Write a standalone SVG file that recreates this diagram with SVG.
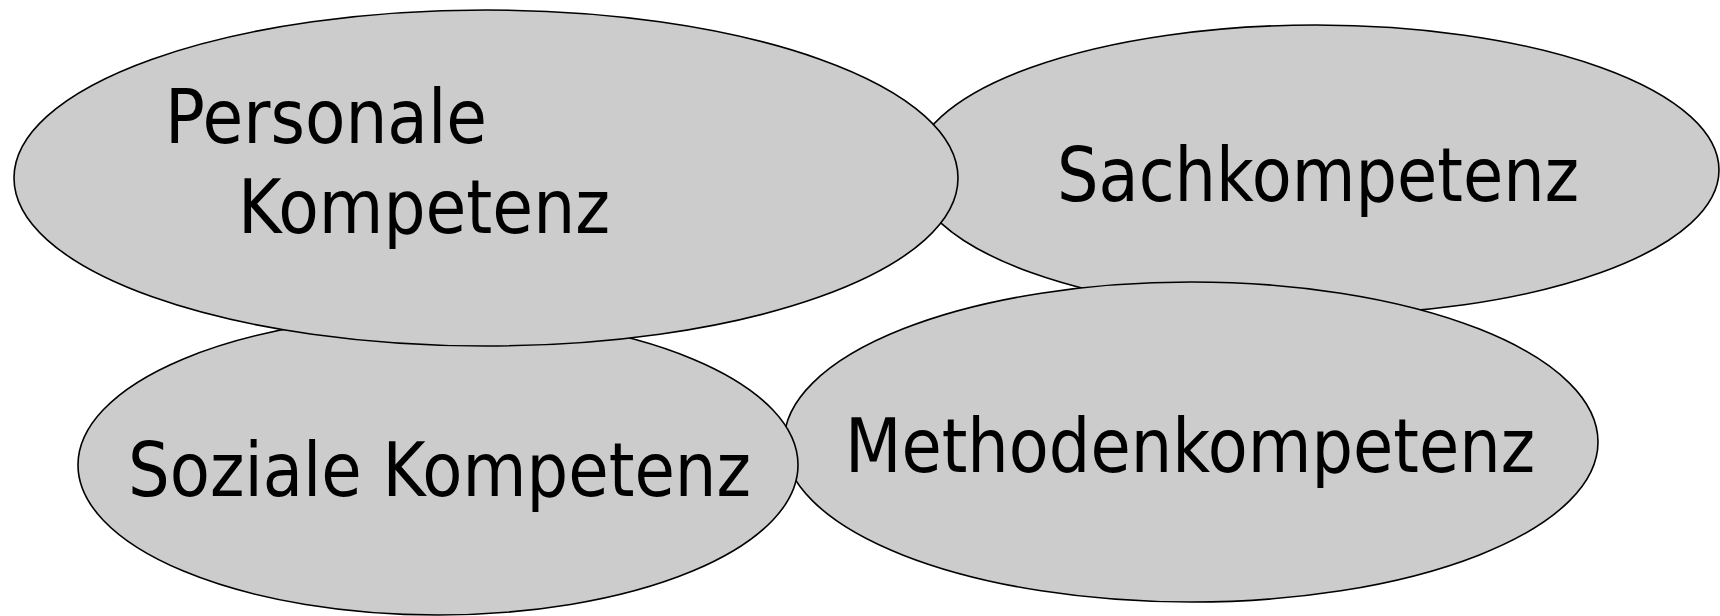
<svg xmlns="http://www.w3.org/2000/svg" width="1720" height="616" viewBox="0 0 1720 616">
<style>
.node ellipse{fill:#cccccc;stroke:#000000;stroke-width:1.6}
.node text{font-family:"DejaVu Sans","Liberation Sans",sans-serif;font-size:75px;fill:#000000}
</style>
<rect width="1720" height="616" fill="#ffffff"/>
<g id="connectors"/>
<g id="sachkompetenz" class="node">
<ellipse cx="1316" cy="170" rx="403" ry="145"/>
<text x="1057" y="201" textLength="522" lengthAdjust="spacingAndGlyphs">Sachkompetenz</text>
</g>
<g id="methodenkompetenz" class="node">
<ellipse cx="1191" cy="442" rx="407" ry="160"/>
<text x="845" y="472" textLength="690" lengthAdjust="spacingAndGlyphs">Methodenkompetenz</text>
</g>
<g id="soziale" class="node">
<ellipse cx="438" cy="465" rx="360" ry="150"/>
<text x="128" y="496" textLength="623" lengthAdjust="spacingAndGlyphs">Soziale Kompetenz</text>
</g>
<g id="personale" class="node">
<ellipse cx="486" cy="178" rx="472" ry="168"/>
<text x="165" y="143" textLength="322" lengthAdjust="spacingAndGlyphs">Personale</text>
<text x="238" y="233" textLength="372" lengthAdjust="spacingAndGlyphs">Kompetenz</text>
</g>
</svg>
